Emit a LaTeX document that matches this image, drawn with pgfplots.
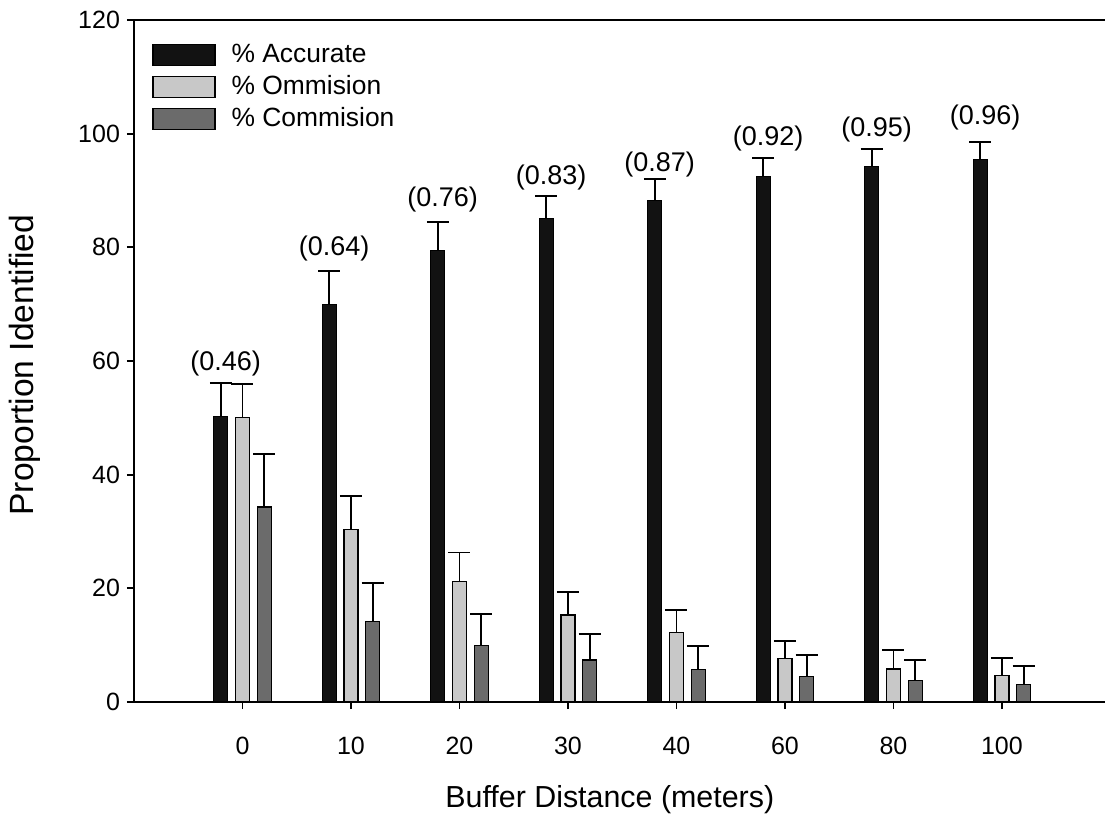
\documentclass[border=0pt]{standalone}
\usepackage{fontspec}
\setmainfont{Liberation Sans}
\usepackage{pgfplots}
\pgfplotsset{compat=1.18}
\usepackage{pgfplotstable}

\definecolor{cacc}{HTML}{121212}
\definecolor{comm}{HTML}{C8C8C8}
\definecolor{ccom}{HTML}{6B6B6B}

\pgfplotsset{barlegend/.style={legend image code/.code={\draw[##1] (0pt,-5.2pt) rectangle (31pt,5.2pt);}}}

\pgfplotstableread{
x y e
0 50.2 5.9
1 69.9 6.0
2 79.4 5.1
3 85.1 3.9
4 88.2 3.8
5 92.5 3.2
6 94.2 3.1
7 95.5 3.0
}\accurate

\pgfplotstableread{
x y e
0 50.0 6.0
1 30.4 5.9
2 21.2 5.1
3 15.3 4.1
4 12.2 4.0
5 7.6 3.2
6 5.8 3.3
7 4.7 3.0
}\ommision

\pgfplotstableread{
x y e
0 34.3 9.3
1 14.1 6.8
2 9.9 5.6
3 7.4 4.6
4 5.7 4.1
5 4.5 3.8
6 3.8 3.6
7 3.1 3.3
}\commision

\pgfplotstableread{
x y lab
0 59.6 (0.46)
1 79.8 (0.64)
2 88.4 (0.76)
3 92.2 (0.83)
4 94.5 (0.87)
5 99.2 (0.92)
6 100.7 (0.95)
7 102.8 (0.96)
}\annot

\begin{document}
\begin{tikzpicture}
\begin{axis}[
  scale only axis, width=485.5pt, height=341pt,
  xmin=-1, xmax=7.95, ymin=0, ymax=120,
  axis x line=box, axis y line=left,
  axis line style={-, line width=0.9pt, black},
  xtick={0,...,7}, xticklabels={0,10,20,30,40,60,80,100},
  ytick={0,20,...,120},
  xtick pos=left, ytick pos=left,
  tick align=outside, major tick length=3.5pt,
  tick style={line width=0.9pt, black},
  /pgf/number format/assume math mode=true,
  tick label style={font=\fontsize{12.5}{14}\selectfont},
  xticklabel style={yshift=-10.5pt},
  xlabel={Buffer Distance (meters)},
  ylabel={Proportion Identified},
  xlabel style={font=\fontsize{15.2}{17}\selectfont, at={(axis description cs:0.49,-0.1437)}, anchor=center},
  ylabel style={font=\fontsize{16.8}{19}\selectfont, at={(axis description cs:-0.1123,0.494)}, anchor=center},
  ybar, bar width=7pt,
  barlegend,
  legend style={draw=none, fill=none, at={(axis description cs:0,1)}, anchor=north west,
    xshift=6pt, yshift=-8pt, font=\fontsize{13.2}{15}\selectfont, row sep=1pt,
    /tikz/every odd column/.append style={column sep=6pt}},
  legend cell align=left,
  error bars/y dir=plus, error bars/y explicit,
  error bars/error bar style={line width=0.9pt, black},
  error bars/error mark options={rotate=90, mark size=5.5pt, line width=0.9pt, black},
]
\addplot[bar shift=-10.85pt, draw=black, line width=0.6pt, fill=cacc, barlegend]
  table[x=x, y=y, y error=e] {\accurate};
\addlegendentry{\% Accurate}
\addplot[bar shift=0pt, draw=black, line width=0.6pt, fill=comm, barlegend]
  table[x=x, y=y, y error=e] {\ommision};
\addlegendentry{\% Ommision}
\addplot[bar shift=10.85pt, draw=black, line width=0.6pt, fill=ccom, barlegend]
  table[x=x, y=y, y error=e] {\commision};
\addlegendentry{\% Commision}
\addplot[bar shift=-8.4pt, draw=none, fill=none, forget plot,
  error bars/y dir=none,
  nodes near coords, point meta=explicit symbolic,
  nodes near coords style={anchor=center, font=\fontsize{13.5}{15}\selectfont}]
  table[x=x, y=y, meta=lab] {\annot};
\coordinate (sw) at (rel axis cs:0,0);
\coordinate (ne) at (rel axis cs:1,1);
\end{axis}
\pgfresetboundingbox
\path ([shift={(-67pt,-57.5pt)}]sw) rectangle ([shift={(0pt,10pt)}]ne);
\end{tikzpicture}
\end{document}
